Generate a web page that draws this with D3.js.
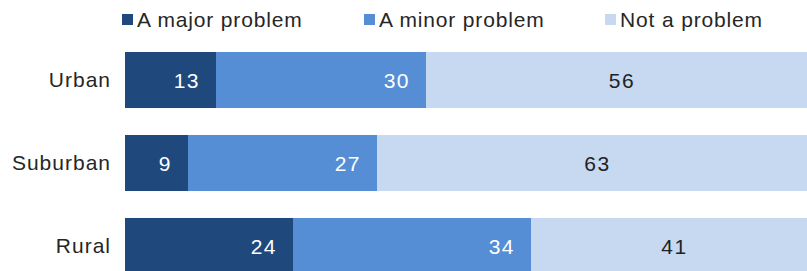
<!DOCTYPE html>
<html>
<head>
<meta charset="utf-8">
<script src="https://cdn.jsdelivr.net/npm/d3@7"></script>
<style>
  html, body { margin: 0; padding: 0; background: #fff; overflow: hidden; }
  svg { display: block; font-family: "Liberation Sans", Arial, sans-serif; }
</style>
</head>
<body>
<div id="chart"></div>
<script>
const categories = ['Urban', 'Suburban', 'Rural'];
const seriesNames = ['A major problem', 'A minor problem', 'Not a problem'];
const majorProblem = [13, 9, 24];
const minorProblem = [30, 27, 34];
const notProblem = [56, 63, 41];

const colors = ['#1f487c', '#558ed5', '#c6d9f1'];
const labelColors = ['#fff', '#fff', '#222'];

const svgWidth = 807;
const svgHeight = 271;

const rows = categories.map((c, i) => ({
    category: c,
    major: majorProblem[i],
    minor: minorProblem[i],
    not: notProblem[i]
}));
const keys = ['major', 'minor', 'not'];

const stacked = d3.stack().keys(keys)(rows);

const svg = d3.select('#chart')
    .append('svg')
    .attr('width', svgWidth)
    .attr('height', svgHeight);

const x = d3.scaleLinear().domain([0, 100]).range([125, 825]);
const y = d3.scaleBand().domain(categories).range([52, 274]).paddingInner(0.325).paddingOuter(0);

// legend
const legendX = [122, 364, 605];
const legend = svg.append('g');
seriesNames.forEach((name, i) => {
    legend.append('rect')
        .attr('x', legendX[i])
        .attr('y', 14)
        .attr('width', 11)
        .attr('height', 11)
        .attr('fill', colors[i]);
    legend.append('text')
        .attr('x', legendX[i] + 15)
        .attr('y', 27)
        .attr('font-size', 21)
        .attr('letter-spacing', 0.85)
        .attr('fill', '#262626')
        .text(name);
});

// bars
const layers = svg.selectAll('.layer')
    .data(stacked)
    .enter()
    .append('g')
    .attr('class', 'layer');

layers.selectAll('rect')
    .data((d, i) => d.map(v => ({ v, i })))
    .enter()
    .append('rect')
    .attr('x', d => x(d.v[0]))
    .attr('y', d => y(d.v.data.category))
    .attr('width', d => x(d.v[1]) - x(d.v[0]))
    .attr('height', y.bandwidth())
    .attr('fill', d => colors[d.i]);

// value labels: first two inside end, last one centred
layers.selectAll('text')
    .data((d, i) => d.map(v => ({ v, i })))
    .enter()
    .append('text')
    .attr('x', d => d.i < 2 ? x(d.v[1]) - 16 : (x(d.v[0]) + x(d.v[1])) / 2)
    .attr('y', d => y(d.v.data.category) + y.bandwidth() / 2)
    .attr('dy', '0.36em')
    .attr('text-anchor', d => d.i < 2 ? 'end' : 'middle')
    .attr('font-size', 21)
    .attr('letter-spacing', 1.5)
    .attr('fill', d => labelColors[d.i])
    .text(d => d.v[1] - d.v[0]);

// category axis
const yAxis = svg.append('g')
    .attr('transform', 'translate(111,0)')
    .call(d3.axisLeft(y).tickSize(0).tickPadding(0));
yAxis.select('.domain').remove();
yAxis.selectAll('text')
    .attr('font-size', 21)
    .attr('letter-spacing', 1)
    .attr('font-family', '"Liberation Sans", Arial, sans-serif')
    .attr('fill', '#262626');
</script>
</body>
</html>
